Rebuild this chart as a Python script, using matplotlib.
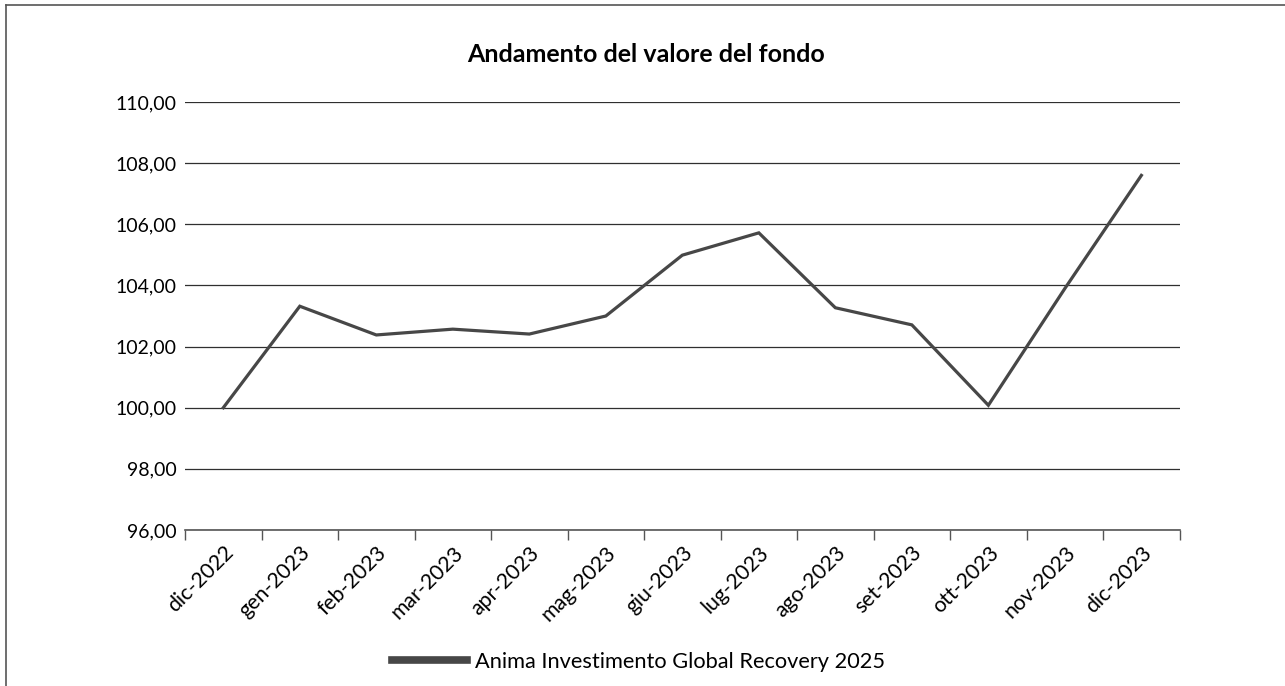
import matplotlib.pyplot as plt
from matplotlib.lines import Line2D
from matplotlib.ticker import FuncFormatter, FixedLocator

plt.rcParams['font.family'] = ['Lato', 'DejaVu Sans']

# --- data ---
months = ["dic-2022", "gen-2023", "feb-2023", "mar-2023", "apr-2023", "mag-2023", "giu-2023",
          "lug-2023", "ago-2023", "set-2023", "ott-2023", "nov-2023", "dic-2023"]
fundValues = [100.00, 103.32, 102.38, 102.57, 102.41, 103.00, 104.99,
              105.72, 103.27, 102.71, 100.08, 103.90, 107.60]
seriesName = "Anima Investimento Global Recovery 2025"

fig = plt.figure(figsize=(12.85, 6.86), dpi=100)
ax = fig.add_axes([0.144, 0.2274, 0.774, 0.6239])

x = list(range(len(months)))
ax.plot(x, fundValues, color='#474747', linewidth=2.3, solid_joinstyle='miter')

ax.set_xlim(-0.5, len(months) - 0.5)
ax.set_ylim(96, 110)
ax.set_yticks(range(96, 111, 2))
ax.yaxis.set_major_formatter(FuncFormatter(lambda v, p: f"{v:.2f}".replace('.', ',')))

# grid lines (horizontal only)
ax.grid(axis='y', color='#2f2f2f', linewidth=0.9)
ax.set_axisbelow(True)

for s in ['top', 'right', 'left']:
    ax.spines[s].set_visible(False)
ax.spines['bottom'].set_color('#555555')
ax.spines['bottom'].set_linewidth(1.2)

ax.set_xticks(x)
ax.set_xticklabels(months, rotation=45, ha='right', rotation_mode='anchor', fontsize=15.3)
ax.tick_params(axis='x', which='major', length=0, pad=9)
ax.xaxis.set_minor_locator(FixedLocator([i - 0.5 for i in range(len(months) + 1)]))
ax.tick_params(axis='x', which='minor', length=7, width=1, color='#555555', direction='out')
ax.tick_params(axis='y', length=0, pad=6, labelsize=14)

fig.text(0.503, 0.92, "Andamento del valore del fondo", ha='center', va='center',
         fontsize=18, fontweight='bold')

# legend at the bottom
handle = Line2D([0], [0], color='#474747', linewidth=5.5)
fig.legend([handle], [seriesName], loc='center', bbox_to_anchor=(0.497, 0.035),
           frameon=False, fontsize=15.7, handlelength=3.4, handletextpad=0.37)

# border of the chart (top and left only, image is cropped)
fig.add_artist(Line2D([0.0047, 1.0], [0.9927, 0.9927], color='#555555', linewidth=1.2))
fig.add_artist(Line2D([0.0047, 0.0047], [0.0, 0.9927], color='#555555', linewidth=1.2))

fig.savefig("out.png", dpi=100, facecolor='white')
